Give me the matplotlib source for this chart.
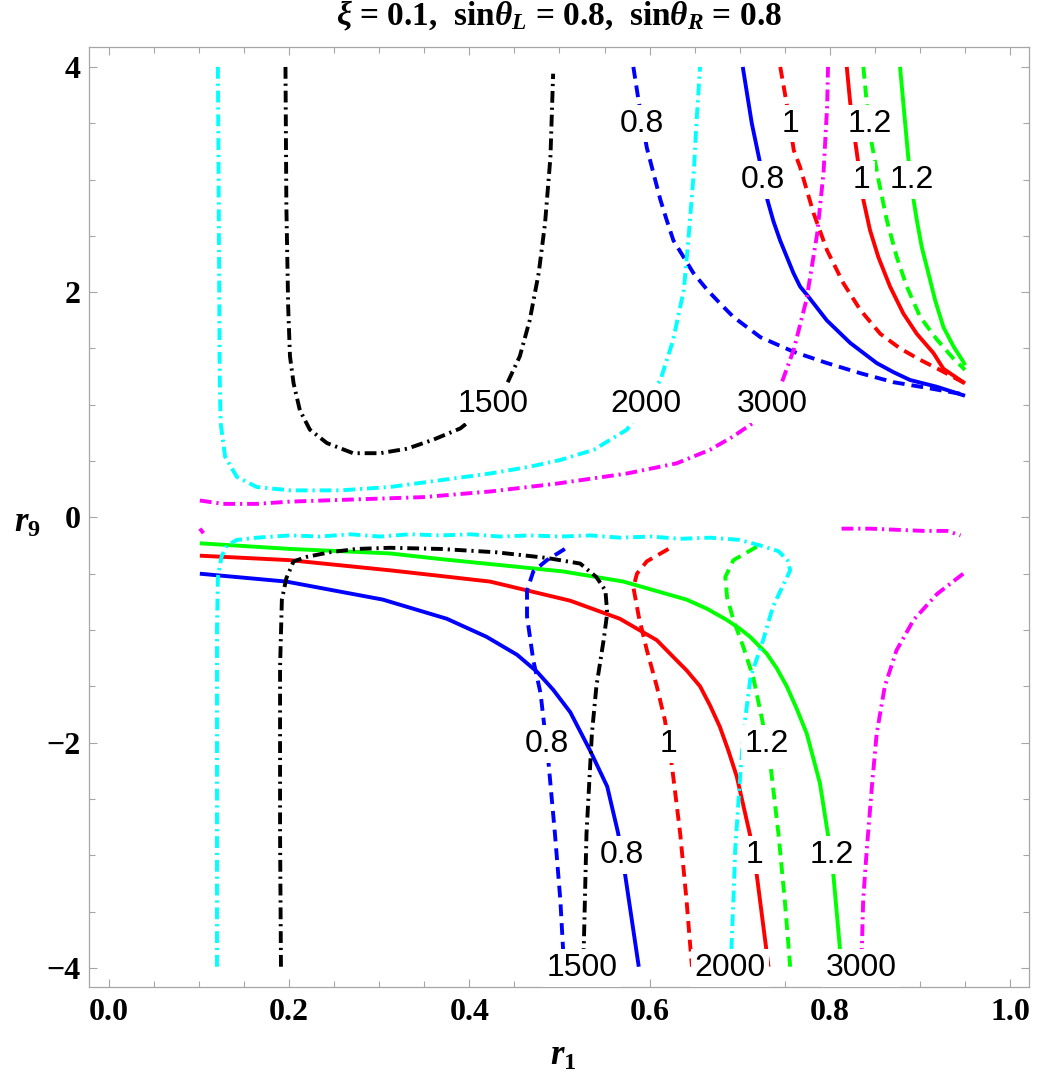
import matplotlib
matplotlib.use("Agg")
import matplotlib.pyplot as plt
from matplotlib.ticker import MultipleLocator, FixedLocator

plt.rcParams['lines.scale_dashes'] = False
plt.rcParams['mathtext.fontset'] = 'custom'
plt.rcParams['mathtext.rm'] = 'Liberation Serif:bold'
plt.rcParams['mathtext.it'] = 'Liberation Serif:italic:bold'
plt.rcParams['mathtext.bf'] = 'Liberation Serif:bold'
plt.rcParams['axes.unicode_minus'] = True

# ---------------- data ----------------
# solid contours
bs_up_x = [0.7034, 0.7134, 0.7215, 0.7307, 0.7374, 0.7448, 0.7596, 0.767, 0.7762, 0.7966, 0.8225, 0.8521, 0.8705, 0.889, 0.9187, 0.950]
bs_up_y = [4.00, 3.50, 3.19, 2.82, 2.63, 2.46, 2.17, 2.05, 1.96, 1.75, 1.55, 1.37, 1.29, 1.22, 1.16, 1.08]
bs_lo_x = [0.101, 0.197, 0.304, 0.375, 0.419, 0.453, 0.475, 0.493, 0.512, 0.534, 0.553, 0.565, 0.573, 0.588]
bs_lo_y = [-0.50, -0.57, -0.73, -0.90, -1.06, -1.22, -1.37, -1.53, -1.73, -2.07, -2.39, -2.80, -3.18, -3.99]

rs_up_x = [0.8188, 0.8225, 0.828, 0.8372, 0.8446, 0.8539, 0.8668, 0.8816, 0.8965, 0.9149, 0.926, 0.950]
rs_up_y = [4.00, 3.69, 3.35, 2.82, 2.55, 2.31, 2.05, 1.81, 1.63, 1.46, 1.32, 1.19]
rs_lo_x = [0.101, 0.201, 0.312, 0.368, 0.423, 0.512, 0.567, 0.608, 0.6264, 0.6413, 0.656, 0.6671, 0.678, 0.6874, 0.6967, 0.7115, 0.719, 0.732]
rs_lo_y = [-0.34, -0.38, -0.47, -0.52, -0.57, -0.74, -0.90, -1.09, -1.24, -1.36, -1.50, -1.67, -1.86, -2.07, -2.30, -2.82, -3.18, -3.99]

gs_up_x = [0.8779, 0.8871, 0.8927, 0.8965, 0.902, 0.9093, 0.9168, 0.926, 0.9371, 0.9482, 0.950]
gs_up_y = [4.00, 3.19, 2.83, 2.64, 2.40, 2.17, 1.93, 1.69, 1.52, 1.38, 1.35]
gs_lo_x = [0.101, 0.201, 0.312, 0.368, 0.430, 0.504, 0.571, 0.641, 0.6634, 0.6856, 0.7004, 0.7115, 0.730, 0.7411, 0.7522, 0.7633, 0.7744, 0.789, 0.798, 0.804, 0.813]
gs_lo_y = [-0.23, -0.28, -0.32, -0.37, -0.42, -0.48, -0.57, -0.73, -0.81, -0.91, -0.99, -1.06, -1.21, -1.34, -1.50, -1.70, -1.92, -2.36, -2.82, -3.18, -3.99]

# dashed contours
bd_up_x = [0.582, 0.588, 0.597, 0.612, 0.619, 0.6264, 0.6394, 0.6486, 0.664, 0.6782, 0.693, 0.723, 0.760, 0.797, 0.834, 0.871, 0.908, 0.950]
bd_up_y = [4.00, 3.69, 3.28, 2.82, 2.64, 2.46, 2.29, 2.17, 2.02, 1.90, 1.78, 1.60, 1.47, 1.37, 1.28, 1.20, 1.15, 1.09]
bd_lo_x = [0.506, 0.486, 0.471, 0.464, 0.464, 0.471, 0.479, 0.488, 0.495, 0.501, 0.504, 0.506]
bd_lo_y = [-0.28, -0.38, -0.48, -0.65, -0.88, -1.27, -1.56, -2.19, -2.81, -3.40, -3.83, -3.99]

rd_up_x = [0.745, 0.752, 0.760, 0.767, 0.782, 0.797, 0.815, 0.834, 0.856, 0.878, 0.900, 0.922, 0.950]
rd_up_y = [4.00, 3.68, 3.26, 3.11, 2.70, 2.37, 2.08, 1.84, 1.63, 1.50, 1.40, 1.31, 1.19]
rd_lo_x = [0.621, 0.597, 0.586, 0.582, 0.588, 0.597, 0.608, 0.617, 0.625, 0.634, 0.641, 0.647]
rd_lo_y = [-0.28, -0.39, -0.50, -0.62, -0.88, -1.18, -1.50, -1.80, -2.22, -2.81, -3.40, -3.99]

gd_up_x = [0.8372, 0.841, 0.8465, 0.8539, 0.8632, 0.8743, 0.8854, 0.9002, 0.9187, 0.9371, 0.950]
gd_up_y = [4.00, 3.68, 3.32, 3.00, 2.64, 2.31, 2.05, 1.78, 1.58, 1.41, 1.31]
gd_lo_x = [0.719, 0.693, 0.684, 0.686, 0.693, 0.704, 0.715, 0.725, 0.734, 0.743, 0.750, 0.756]
gd_lo_y = [-0.26, -0.38, -0.53, -0.71, -0.91, -1.15, -1.42, -1.80, -2.19, -2.81, -3.40, -3.99]

# dot-dashed contours
k_up_x = [0.196, 0.197, 0.199, 0.201, 0.205, 0.212, 0.223, 0.242, 0.271, 0.301, 0.331, 0.360, 0.390, 0.415, 0.442, 0.456, 0.467, 0.477, 0.484, 0.490, 0.493]
k_up_y = [4.00, 2.76, 1.87, 1.43, 1.19, 0.95, 0.78, 0.66, 0.57, 0.57, 0.61, 0.69, 0.79, 0.95, 1.19, 1.43, 1.75, 2.17, 2.61, 3.20, 3.94]
k_lo_x = [0.191, 0.190, 0.190, 0.192, 0.197, 0.205, 0.220, 0.245, 0.275, 0.312, 0.368, 0.430, 0.486, 0.523, 0.541, 0.551, 0.553, 0.549, 0.541, 0.536, 0.530, 0.527, 0.526]
k_lo_y = [-3.99, -2.81, -1.33, -0.73, -0.54, -0.39, -0.35, -0.31, -0.28, -0.27, -0.28, -0.31, -0.36, -0.41, -0.53, -0.65, -0.85, -1.09, -1.50, -1.92, -2.81, -3.81, -3.99]

c_up_x = [0.121, 0.122, 0.123, 0.124, 0.129, 0.142, 0.164, 0.201, 0.257, 0.312, 0.368, 0.423, 0.467, 0.501, 0.538, 0.575, 0.595, 0.612, 0.626, 0.638, 0.643, 0.649, 0.652, 0.656]
c_up_y = [4.00, 2.76, 1.28, 0.84, 0.54, 0.36, 0.27, 0.24, 0.24, 0.27, 0.33, 0.39, 0.45, 0.51, 0.60, 0.78, 1.01, 1.22, 1.57, 2.02, 2.46, 3.06, 3.50, 4.00]
c_lo_x = [0.120, 0.120, 0.121, 0.125, 0.131, 0.142, 0.164, 0.201, 0.234, 0.268, 0.301, 0.334, 0.368, 0.401, 0.434, 0.467, 0.501, 0.534, 0.567, 0.601, 0.634, 0.667, 0.700, 0.723, 0.743, 0.753, 0.756, 0.749, 0.737, 0.726, 0.712, 0.704, 0.700, 0.695, 0.693, 0.690]
c_lo_y = [-3.99, -1.00, -0.53, -0.35, -0.25, -0.20, -0.18, -0.16, -0.17, -0.15, -0.17, -0.15, -0.16, -0.15, -0.17, -0.16, -0.17, -0.16, -0.18, -0.17, -0.19, -0.18, -0.20, -0.25, -0.30, -0.38, -0.47, -0.59, -0.79, -1.09, -1.42, -1.92, -2.36, -2.95, -3.40, -3.99]

m_up_x = [0.101, 0.127, 0.164, 0.201, 0.275, 0.349, 0.423, 0.497, 0.575, 0.630, 0.667, 0.693, 0.715, 0.732, 0.745, 0.760, 0.774, 0.786, 0.793, 0.797, 0.798]
m_up_y = [0.15, 0.12, 0.12, 0.14, 0.16, 0.18, 0.23, 0.30, 0.39, 0.48, 0.60, 0.72, 0.84, 1.00, 1.16, 1.49, 1.93, 2.52, 3.06, 3.65, 4.00]
m_stub_x = [0.101, 0.105]
m_stub_y = [-0.10, -0.14]
m_flat_x = [0.813, 0.845, 0.874, 0.904, 0.930, 0.945]
m_flat_y = [-0.10, -0.10, -0.11, -0.12, -0.12, -0.16]
m_v_x = [0.948, 0.919, 0.893, 0.874, 0.861, 0.852, 0.847, 0.841, 0.837, 0.835]
m_v_y = [-0.50, -0.68, -0.91, -1.18, -1.50, -1.92, -2.36, -2.95, -3.40, -3.99]

# contour labels
label_text = ["1500", "2000", "3000",
              "0.8", "1", "1.2",
              "0.8", "1", "1.2",
              "0.8", "1", "1.2",
              "0.8", "1", "1.2",
              "1500", "2000", "3000"]
label_x = [0.4265, 0.596, 0.7356,
           0.5913, 0.7559, 0.8446,
           0.7254, 0.8357, 0.8913,
           0.4859, 0.6208, 0.730,
           0.5691, 0.716, 0.8025,
           0.5251, 0.6893, 0.8346]
label_y = [1.006, 1.006, 1.006,
           3.497, 3.497, 3.497,
           2.996, 2.996, 2.996,
           -2.013, -2.013, -2.013,
           -2.999, -2.999, -2.999,
           -4.0, -4.0, -4.0]

x_ticks = [0.0, 0.2, 0.4, 0.6, 0.8, 1.0]
x_ticklabels = ["0.0", "0.2", "0.4", "0.6", "0.8", "1.0"]
y_ticks = [-4, -2, 0, 2, 4]
y_ticklabels = ["\u22124", "\u22122", "0", "2", "4"]

# ---------------- figure ----------------
W, H = 1042, 1078
fig = plt.figure(figsize=(W / 100, H / 100), dpi=100)
ax = fig.add_axes([89 / W, 1 - 987 / H, (1029 - 89) / W, (987 - 47) / H])

lw = 2.8
solid = dict(lw=lw, ls='-')
dashed = dict(lw=lw, dashes=(8.5, 5.0))
dotdash = dict(lw=lw, dashes=(8.5, 3.5, 1.6, 3.5))

curves = [
    (bs_up_x, bs_up_y, 'blue', solid), (bs_lo_x, bs_lo_y, 'blue', solid),
    (rs_up_x, rs_up_y, 'red', solid), (rs_lo_x, rs_lo_y, 'red', solid),
    (gs_up_x, gs_up_y, 'lime', solid), (gs_lo_x, gs_lo_y, 'lime', solid),
    (bd_up_x, bd_up_y, 'blue', dashed), (bd_lo_x, bd_lo_y, 'blue', dashed),
    (rd_up_x, rd_up_y, 'red', dashed), (rd_lo_x, rd_lo_y, 'red', dashed),
    (gd_up_x, gd_up_y, 'lime', dashed), (gd_lo_x, gd_lo_y, 'lime', dashed),
    (k_up_x, k_up_y, 'black', dotdash), (k_lo_x, k_lo_y, 'black', dotdash),
    (c_up_x, c_up_y, 'cyan', dotdash), (c_lo_x, c_lo_y, 'cyan', dotdash),
    (m_up_x, m_up_y, 'magenta', dotdash), (m_stub_x, m_stub_y, 'magenta', dotdash),
    (m_flat_x, m_flat_y, 'magenta', dotdash), (m_v_x, m_v_y, 'magenta', dotdash),
]
for xs, ys, col, sty in curves:
    ax.plot(xs, ys, color=col, solid_capstyle='butt', dash_capstyle='butt',
            solid_joinstyle='round', **sty)

for t, x, y in zip(label_text, label_x, label_y):
    ax.text(x, y, t, ha='center', va='center', fontsize=23, family='Liberation Sans',
            color='black', zorder=5,
            bbox=dict(boxstyle='square,pad=0.12', fc='white', ec='none'))

ax.set_xlim(-0.022, 1.021)
ax.set_ylim(-4.17, 4.177)

ax.xaxis.set_major_locator(FixedLocator(x_ticks))
ax.set_xticklabels(x_ticklabels)
ax.xaxis.set_minor_locator(MultipleLocator(0.05))
ax.yaxis.set_major_locator(FixedLocator(y_ticks))
ax.set_yticklabels(y_ticklabels)
ax.yaxis.set_minor_locator(MultipleLocator(0.5))

gray = '#a6a6a6'
for sp in ax.spines.values():
    sp.set_color(gray)
    sp.set_linewidth(0.9)
ax.tick_params(which='both', direction='in', color=gray, width=0.8,
               top=True, right=True, labeltop=False, labelright=False)
ax.tick_params(which='major', length=6)
ax.tick_params(which='minor', length=4)
ax.tick_params(axis='x', which='major', pad=8)
ax.tick_params(axis='y', which='major', pad=6)
for lab in ax.get_xticklabels() + ax.get_yticklabels():
    lab.set_fontfamily('Liberation Serif')
    lab.set_fontweight('bold')
    lab.set_fontsize(23)

fig.text(559 / W, 1 - 16 / H,
         r"$\xi$ = 0.1,  sin$\theta_L$ = 0.8,  sin$\theta_R$ = 0.8",
         ha='center', va='center', fontsize=24, family='Liberation Serif',
         fontweight='bold')
fig.text(563 / W, 1 - 1055 / H, r"$r_1$", ha='center', va='center', fontsize=25)
fig.text(27 / W, 1 - 522 / H, r"$r_9$", ha='center', va='center', fontsize=25)

fig.savefig("out.png", dpi=100)
